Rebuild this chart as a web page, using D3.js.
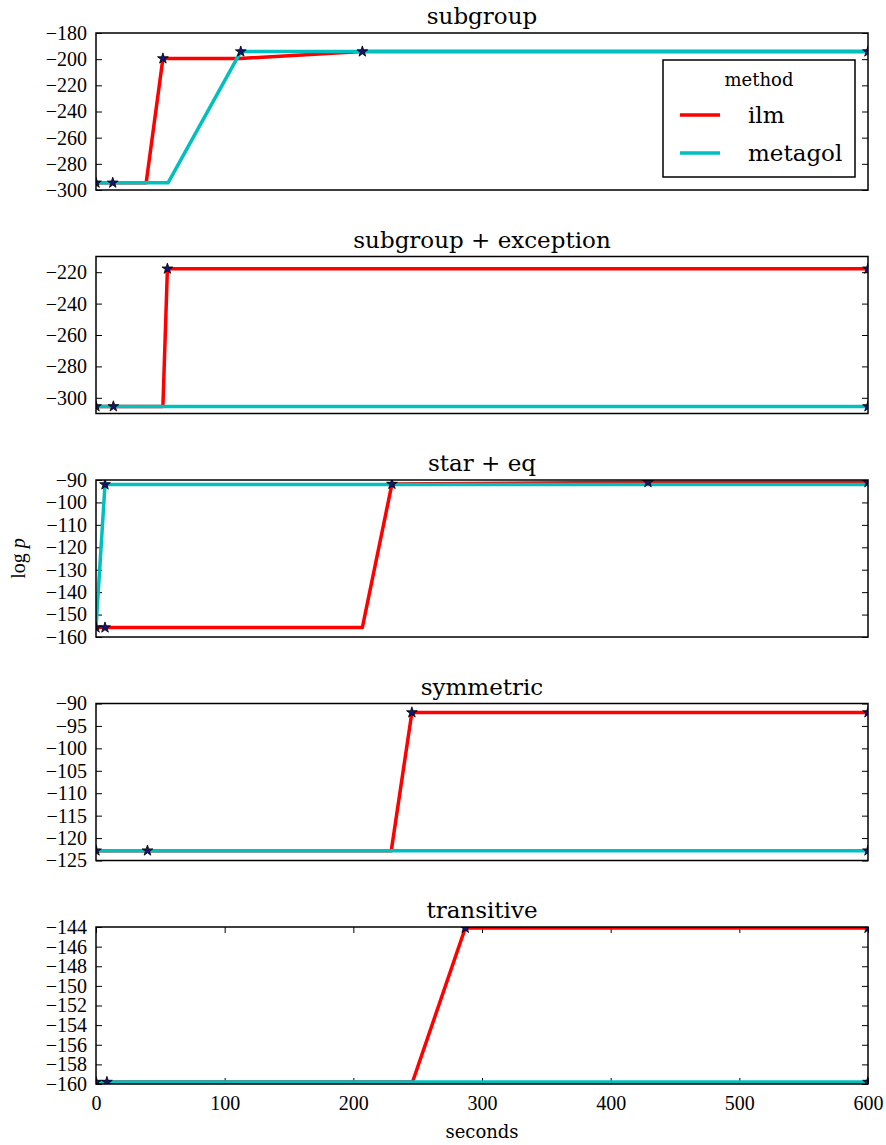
<!DOCTYPE html>
<html>
<head>
<meta charset="utf-8">
<script src="https://cdnjs.cloudflare.com/ajax/libs/d3/7.8.5/d3.min.js"></script>
<style>
  body { margin: 0; background: #fff; }
  svg { display: block; }
</style>
</head>
<body>
<div id="chart"></div>
<script>
// panel titles and y ranges
var panelTitles = ["subgroup", "subgroup + exception", "star + eq", "symmetric", "transitive"];
var yDomains = [[-300, -180], [-310, -210], [-160, -90], [-125, -90], [-160, -144]];
var yTickSteps = [20, 20, 10, 5, 2];
var xTicks = [0, 100, 200, 300, 400, 500, 600];

// ilm series per panel: [seconds, log p]
var ilmSubgroup   = [[0, -294.5], [39, -294.5], [52, -199.5], [112, -199.5], [207, -194.2], [600, -194.2]];
var ilmException  = [[0, -305.5], [52, -305.5], [55.5, -217.8], [600, -217.8]];
var ilmStarEq     = [[0, -155.8], [207, -155.8], [230, -91.8], [429, -91], [600, -91]];
var ilmSymmetric  = [[0, -122.8], [229.5, -122.8], [245.5, -92], [600, -92]];
var ilmTransitive = [[0, -159.8], [246, -159.8], [287, -144.1], [600, -144.1]];

// metagol series per panel
var metSubgroup   = [[0, -294.5], [13, -294.5], [56, -294.5], [112.5, -194.2], [600, -194.2]];
var metException  = [[0, -305.5], [13.5, -305.5], [600, -305.5]];
var metStarEq     = [[0, -155.8], [7, -92], [600, -92]];
var metSymmetric  = [[0, -122.8], [40, -122.8], [600, -122.8]];
var metTransitive = [[0, -159.8], [8.5, -159.8], [600, -159.8]];

// star markers (new best found)
var starsSubgroup   = [[0, -294.5], [13, -294.5], [52, -199.5], [112.5, -194.2], [207, -194.2], [600, -194.2]];
var starsException  = [[0, -305.5], [13.5, -305.5], [55.5, -217.8], [600, -217.8], [600, -305.5]];
var starsStarEq     = [[0, -155.8], [7, -155.8], [7, -92], [230, -91.8], [429, -91], [600, -91]];
var starsSymmetric  = [[0, -122.8], [40, -122.8], [245.5, -92], [600, -92], [600, -122.8]];
var starsTransitive = [[0, -159.8], [8.5, -159.8], [287, -144.1], [600, -144.1], [600, -159.8]];

var ilmData = [ilmSubgroup, ilmException, ilmStarEq, ilmSymmetric, ilmTransitive];
var metData = [metSubgroup, metException, metStarEq, metSymmetric, metTransitive];
var starData = [starsSubgroup, starsException, starsStarEq, starsSymmetric, starsTransitive];

var methods = ["ilm", "metagol"];
var colors = {ilm: "#ff0000", metagol: "#00bfbf"};

var width = 886, height = 1145;
var left = 96, plotW = 772, plotH = 157, firstTop = 33, step = 223.5;

var svg = d3.select("#chart").append("svg")
    .attr("width", width)
    .attr("height", height);

var x = d3.scaleLinear().domain([0, 600]).range([0, plotW]);

// tick styling (cm-like numbers)
function styleAxis(sel) {
  sel.select(".domain").remove();
  sel.selectAll(".tick line").attr("stroke", "#000").attr("stroke-width", 1);
  sel.selectAll(".tick text")
    .style("font-family", "'Liberation Serif', serif")
    .style("font-size", "20px")
    .attr("fill", "#000");
}

panelTitles.forEach(function(title, i) {
  var top = firstTop + i * step;
  var y = d3.scaleLinear().domain(yDomains[i]).range([plotH, 0]);
  var g = svg.append("g").attr("transform", "translate(" + left + "," + top + ")");

  g.append("clipPath").attr("id", "clip" + i)
    .append("rect").attr("width", plotW).attr("height", plotH);

  var s = yTickSteps[i];
  var yt = d3.range(Math.ceil(yDomains[i][0] / s) * s, yDomains[i][1] + s / 2, s);
  g.append("g").call(d3.axisLeft(y).tickValues(yt).tickSize(-6).tickPadding(9).tickFormat(d3.format("d")))
    .call(styleAxis);
  g.append("g").attr("transform", "translate(" + plotW + ",0)")
    .call(d3.axisRight(y).tickValues(yt).tickSize(-6).tickFormat(""))
    .call(styleAxis);

  if (i === panelTitles.length - 1) {
    g.append("g").attr("transform", "translate(0," + plotH + ")")
      .call(d3.axisBottom(x).tickValues(xTicks).tickSize(-6).tickPadding(12).tickFormat(d3.format("d")))
      .call(styleAxis);
    g.append("g").call(d3.axisTop(x).tickValues(xTicks).tickSize(-6).tickFormat(""))
      .call(styleAxis);
  }

  var line = d3.line().x(function(d) { return x(d[0]); }).y(function(d) { return y(d[1]); });
  var plot = g.append("g").attr("clip-path", "url(#clip" + i + ")");

  plot.append("path").datum(ilmData[i])
    .attr("d", line).attr("fill", "none")
    .attr("stroke", colors.ilm).attr("stroke-width", 3.5).attr("stroke-linejoin", "round");
  plot.append("path").datum(metData[i])
    .attr("d", line).attr("fill", "none")
    .attr("stroke", colors.metagol).attr("stroke-width", 3.5).attr("stroke-linejoin", "round");

  plot.selectAll(".star").data(starData[i]).enter().append("path")
    .attr("class", "star")
    .attr("d", d3.symbol().type(d3.symbolStar).size(36))
    .attr("transform", function(d) { return "translate(" + x(d[0]) + "," + y(d[1]) + ")"; })
    .attr("fill", "#14147a").attr("stroke", "#000").attr("stroke-width", 0.8);

  g.append("rect").attr("width", plotW).attr("height", plotH)
    .attr("fill", "none").attr("stroke", "#000").attr("stroke-width", 1.5);

  g.append("text").attr("x", plotW / 2).attr("y", -9)
    .attr("text-anchor", "middle")
    .style("font-family", "'DejaVu Serif', serif").style("font-size", "23px")
    .text(title);
});

// axis labels
svg.append("text").attr("x", left + plotW / 2).attr("y", 1138)
  .attr("text-anchor", "middle")
  .style("font-family", "'DejaVu Serif', serif").style("font-size", "18px")
  .text("seconds");

var ylab = svg.append("text")
  .attr("transform", "translate(25," + (firstTop + 2 * step + plotH / 2) + ") rotate(-90)")
  .attr("text-anchor", "middle")
  .style("font-family", "'Liberation Serif', serif").style("font-size", "20px");
ylab.append("tspan").text("log ");
ylab.append("tspan").style("font-style", "italic").text("p");

// legend
var lg = svg.append("g").attr("transform", "translate(663,60)");
lg.append("rect").attr("width", 192).attr("height", 117)
  .attr("fill", "#fff").attr("stroke", "#000").attr("stroke-width", 1.5);
lg.append("text").attr("x", 96).attr("y", 26).attr("text-anchor", "middle")
  .style("font-family", "'DejaVu Serif', serif").style("font-size", "18px")
  .text("method");
methods.forEach(function(m, k) {
  var ly = 55 + k * 38;
  lg.append("line").attr("x1", 17).attr("x2", 57).attr("y1", ly).attr("y2", ly)
    .attr("stroke", colors[m]).attr("stroke-width", 3.5);
  lg.append("text").attr("x", 85).attr("y", ly + 8)
    .style("font-family", "'DejaVu Serif', serif").style("font-size", "23px")
    .text(m);
});
</script>
</body>
</html>
